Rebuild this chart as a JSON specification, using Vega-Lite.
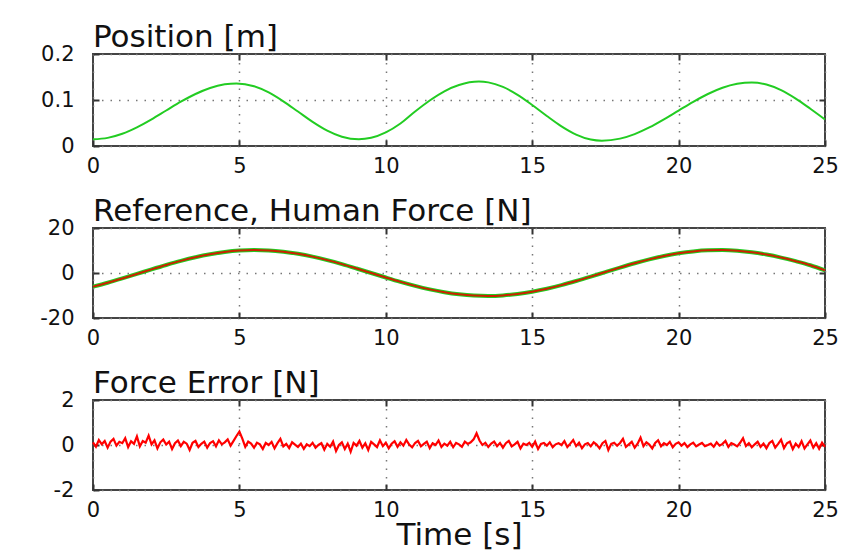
{
  "$schema": "https://vega.github.io/schema/vega-lite/v6.json",
  "background": "white",
  "padding": {"left": 38, "top": 21, "right": 10, "bottom": 5},
  "spacing": 82,
  "bounds": "flush",
  "config": {
    "font": "DejaVu Sans",
    "view": {"stroke": "#444444", "strokeWidth": 2},
    "axis": {
      "labelFont": "DejaVu Sans", "labelFontSize": 21, "labelColor": "#111111",
      "domain": false, "ticks": true, "tickSize": -6, "tickWidth": 2, "tickColor": "#333333",
      "grid": true, "gridDash": [1.5, 7], "gridColor": "#777777", "gridWidth": 1.5,
      "titleFont": "DejaVu Sans", "titleFontWeight": "normal", "titleColor": "#111111"
    },
    "title": {"font": "DejaVu Sans", "fontSize": 31, "fontWeight": "normal", "color": "#111111", "anchor": "start", "frame": "group", "offset": -11}
  },
  "datasets": {
    "pos": [
      {"t": 0, "p": 0.0146}, {"t": 0.5, "p": 0.0177}, {"t": 1, "p": 0.0266}, {"t": 1.5, "p": 0.0406},
      {"t": 2, "p": 0.058}, {"t": 2.5, "p": 0.0772}, {"t": 3, "p": 0.0963}, {"t": 3.5, "p": 0.1131},
      {"t": 4, "p": 0.1262}, {"t": 4.5, "p": 0.134}, {"t": 4.9, "p": 0.136}, {"t": 5.5, "p": 0.1299},
      {"t": 6, "p": 0.1164}, {"t": 6.5, "p": 0.0971}, {"t": 7, "p": 0.0749}, {"t": 7.5, "p": 0.0526},
      {"t": 8, "p": 0.0335}, {"t": 8.5, "p": 0.0202}, {"t": 9.08, "p": 0.0146}, {"t": 9.5, "p": 0.0178},
      {"t": 10, "p": 0.0295}, {"t": 10.5, "p": 0.049}, {"t": 11, "p": 0.075}, {"t": 11.5, "p": 0.099},
      {"t": 12, "p": 0.119}, {"t": 12.5, "p": 0.1325}, {"t": 13.18, "p": 0.14}, {"t": 13.5, "p": 0.1383},
      {"t": 14, "p": 0.1284}, {"t": 14.5, "p": 0.1112}, {"t": 15, "p": 0.0892}, {"t": 15.5, "p": 0.0653},
      {"t": 16, "p": 0.0428}, {"t": 16.5, "p": 0.0249}, {"t": 17, "p": 0.014}, {"t": 17.38, "p": 0.0115},
      {"t": 18, "p": 0.016}, {"t": 18.5, "p": 0.0259}, {"t": 19, "p": 0.0403}, {"t": 19.5, "p": 0.0579},
      {"t": 20, "p": 0.0771}, {"t": 20.5, "p": 0.0961}, {"t": 21, "p": 0.1131}, {"t": 21.5, "p": 0.1266},
      {"t": 22, "p": 0.1351}, {"t": 22.5, "p": 0.1381}, {"t": 23, "p": 0.1337}, {"t": 23.5, "p": 0.1215},
      {"t": 24, "p": 0.1031}, {"t": 24.5, "p": 0.0809}, {"t": 25, "p": 0.0575}
    ],
    "force": [
      {"t": 0, "f": -6.06}, {"t": 0.5, "f": -4.32}, {"t": 1, "f": -2.41}, {"t": 1.5, "f": -0.41},
      {"t": 2, "f": 1.62}, {"t": 2.5, "f": 3.57}, {"t": 3, "f": 5.39}, {"t": 3.5, "f": 7.0},
      {"t": 4, "f": 8.32}, {"t": 4.5, "f": 9.32}, {"t": 5, "f": 9.96}, {"t": 5.5, "f": 10.2},
      {"t": 6, "f": 10.04}, {"t": 6.5, "f": 9.48}, {"t": 7, "f": 8.55}, {"t": 7.5, "f": 7.28},
      {"t": 8, "f": 5.72}, {"t": 8.5, "f": 3.95}, {"t": 9, "f": 2.01}, {"t": 9.5, "f": 0},
      {"t": 10, "f": -2.01}, {"t": 10.5, "f": -3.95}, {"t": 11, "f": -5.73}, {"t": 11.5, "f": -7.28},
      {"t": 12, "f": -8.55}, {"t": 12.5, "f": -9.48}, {"t": 13, "f": -10.04}, {"t": 13.5, "f": -10.2},
      {"t": 14, "f": -9.96}, {"t": 14.5, "f": -9.32}, {"t": 15, "f": -8.32}, {"t": 15.5, "f": -7.0},
      {"t": 16, "f": -5.39}, {"t": 16.5, "f": -3.57}, {"t": 17, "f": -1.62}, {"t": 17.5, "f": 0.41},
      {"t": 18, "f": 2.41}, {"t": 18.5, "f": 4.32}, {"t": 19, "f": 6.06}, {"t": 19.5, "f": 7.56},
      {"t": 20, "f": 8.75}, {"t": 20.5, "f": 9.6}, {"t": 21, "f": 10.08}, {"t": 21.5, "f": 10.18},
      {"t": 22, "f": 9.89}, {"t": 22.5, "f": 9.22}, {"t": 23, "f": 8.19}, {"t": 23.5, "f": 6.85},
      {"t": 24, "f": 5.25}, {"t": 24.5, "f": 3.46}, {"t": 25, "f": 1.21}
    ],
    "err": [
      {"t": 0.0, "e": 0.12}, {"t": 0.1, "e": -0.08}, {"t": 0.2, "e": 0.22}, {"t": 0.3, "e": 0.03}, {"t": 0.4, "e": 0.18}, {"t": 0.5, "e": -0.12}, {"t": 0.6, "e": 0.15}, {"t": 0.7, "e": 0.27}, {"t": 0.8, "e": -0.03}, {"t": 0.9, "e": 0.14},
      {"t": 1.0, "e": 0.08}, {"t": 1.1, "e": 0.3}, {"t": 1.2, "e": -0.09}, {"t": 1.3, "e": 0.17}, {"t": 1.4, "e": 0.05}, {"t": 1.5, "e": 0.38}, {"t": 1.6, "e": -0.06}, {"t": 1.7, "e": 0.18}, {"t": 1.8, "e": 0.1}, {"t": 1.9, "e": 0.42},
      {"t": 2.0, "e": 0.03}, {"t": 2.1, "e": 0.21}, {"t": 2.2, "e": -0.15}, {"t": 2.3, "e": 0.12}, {"t": 2.4, "e": 0.24}, {"t": 2.5, "e": 0.02}, {"t": 2.6, "e": 0.15}, {"t": 2.7, "e": -0.18}, {"t": 2.8, "e": 0.08}, {"t": 2.9, "e": 0.2},
      {"t": 3.0, "e": -0.05}, {"t": 3.1, "e": 0.14}, {"t": 3.2, "e": 0.06}, {"t": 3.3, "e": -0.22}, {"t": 3.4, "e": 0.1}, {"t": 3.5, "e": 0.18}, {"t": 3.6, "e": -0.09}, {"t": 3.7, "e": 0.05}, {"t": 3.8, "e": 0.15}, {"t": 3.9, "e": -0.12},
      {"t": 4.0, "e": 0.09}, {"t": 4.1, "e": 0.17}, {"t": 4.2, "e": -0.06}, {"t": 4.3, "e": 0.21}, {"t": 4.4, "e": 0.03}, {"t": 4.5, "e": 0.12}, {"t": 4.6, "e": 0.25}, {"t": 4.7, "e": -0.03}, {"t": 4.8, "e": 0.18}, {"t": 4.9, "e": 0.4},
      {"t": 5.0, "e": 0.6}, {"t": 5.1, "e": 0.28}, {"t": 5.2, "e": -0.08}, {"t": 5.3, "e": 0.15}, {"t": 5.4, "e": 0.06}, {"t": 5.5, "e": -0.12}, {"t": 5.6, "e": 0.1}, {"t": 5.7, "e": 0.03}, {"t": 5.8, "e": -0.18}, {"t": 5.9, "e": 0.09},
      {"t": 6.0, "e": 0.0}, {"t": 6.1, "e": 0.14}, {"t": 6.2, "e": -0.15}, {"t": 6.3, "e": 0.08}, {"t": 6.4, "e": 0.27}, {"t": 6.5, "e": -0.06}, {"t": 6.6, "e": 0.05}, {"t": 6.7, "e": -0.14}, {"t": 6.8, "e": 0.12}, {"t": 6.9, "e": 0.02},
      {"t": 7.0, "e": -0.09}, {"t": 7.1, "e": 0.06}, {"t": 7.2, "e": -0.17}, {"t": 7.3, "e": 0.03}, {"t": 7.4, "e": -0.05}, {"t": 7.5, "e": 0.1}, {"t": 7.6, "e": -0.12}, {"t": 7.7, "e": 0.0}, {"t": 7.8, "e": 0.08}, {"t": 7.9, "e": -0.21},
      {"t": 8.0, "e": 0.05}, {"t": 8.1, "e": -0.08}, {"t": 8.2, "e": 0.15}, {"t": 8.3, "e": -0.27}, {"t": 8.4, "e": 0.0}, {"t": 8.5, "e": 0.12}, {"t": 8.6, "e": -0.18}, {"t": 8.7, "e": 0.06}, {"t": 8.8, "e": -0.3}, {"t": 8.9, "e": 0.09},
      {"t": 9.0, "e": -0.03}, {"t": 9.1, "e": 0.18}, {"t": 9.2, "e": -0.12}, {"t": 9.3, "e": 0.08}, {"t": 9.4, "e": -0.22}, {"t": 9.5, "e": 0.14}, {"t": 9.6, "e": 0.03}, {"t": 9.7, "e": -0.09}, {"t": 9.8, "e": 0.21}, {"t": 9.9, "e": -0.05},
      {"t": 10.0, "e": 0.1}, {"t": 10.1, "e": -0.15}, {"t": 10.2, "e": 0.06}, {"t": 10.3, "e": 0.17}, {"t": 10.4, "e": -0.08}, {"t": 10.5, "e": 0.12}, {"t": 10.6, "e": -0.03}, {"t": 10.7, "e": 0.22}, {"t": 10.8, "e": 0.02}, {"t": 10.9, "e": -0.1},
      {"t": 11.0, "e": 0.09}, {"t": 11.1, "e": 0.18}, {"t": 11.2, "e": -0.06}, {"t": 11.3, "e": 0.05}, {"t": 11.4, "e": 0.15}, {"t": 11.5, "e": -0.14}, {"t": 11.6, "e": 0.08}, {"t": 11.7, "e": 0.0}, {"t": 11.8, "e": 0.2}, {"t": 11.9, "e": -0.09},
      {"t": 12.0, "e": 0.06}, {"t": 12.1, "e": -0.03}, {"t": 12.2, "e": 0.14}, {"t": 12.3, "e": -0.1}, {"t": 12.4, "e": 0.09}, {"t": 12.5, "e": 0.03}, {"t": 12.6, "e": -0.08}, {"t": 12.7, "e": 0.15}, {"t": 12.8, "e": 0.05}, {"t": 12.9, "e": 0.12},
      {"t": 13.0, "e": 0.25}, {"t": 13.1, "e": 0.52}, {"t": 13.2, "e": 0.2}, {"t": 13.3, "e": 0.0}, {"t": 13.4, "e": 0.1}, {"t": 13.5, "e": -0.09}, {"t": 13.6, "e": 0.06}, {"t": 13.7, "e": 0.15}, {"t": 13.8, "e": -0.05}, {"t": 13.9, "e": 0.09},
      {"t": 14.0, "e": -0.12}, {"t": 14.1, "e": 0.08}, {"t": 14.2, "e": 0.18}, {"t": 14.3, "e": -0.06}, {"t": 14.4, "e": 0.03}, {"t": 14.5, "e": 0.14}, {"t": 14.6, "e": -0.15}, {"t": 14.7, "e": 0.06}, {"t": 14.8, "e": 0.0}, {"t": 14.9, "e": 0.1},
      {"t": 15.0, "e": -0.08}, {"t": 15.1, "e": 0.15}, {"t": 15.2, "e": -0.18}, {"t": 15.3, "e": 0.05}, {"t": 15.4, "e": 0.09}, {"t": 15.5, "e": -0.03}, {"t": 15.6, "e": 0.12}, {"t": 15.7, "e": -0.1}, {"t": 15.8, "e": 0.03}, {"t": 15.9, "e": 0.08},
      {"t": 16.0, "e": 0.0}, {"t": 16.1, "e": 0.17}, {"t": 16.2, "e": -0.09}, {"t": 16.3, "e": 0.06}, {"t": 16.4, "e": 0.22}, {"t": 16.5, "e": -0.05}, {"t": 16.6, "e": 0.1}, {"t": 16.7, "e": -0.14}, {"t": 16.8, "e": 0.03}, {"t": 16.9, "e": 0.09},
      {"t": 17.0, "e": -0.06}, {"t": 17.1, "e": 0.12}, {"t": 17.2, "e": 0.02}, {"t": 17.3, "e": -0.15}, {"t": 17.4, "e": 0.08}, {"t": 17.5, "e": 0.18}, {"t": 17.6, "e": -0.22}, {"t": 17.7, "e": 0.05}, {"t": 17.8, "e": 0.1}, {"t": 17.9, "e": -0.03},
      {"t": 18.0, "e": 0.09}, {"t": 18.1, "e": 0.27}, {"t": 18.2, "e": -0.08}, {"t": 18.3, "e": 0.03}, {"t": 18.4, "e": 0.14}, {"t": 18.5, "e": -0.12}, {"t": 18.6, "e": 0.06}, {"t": 18.7, "e": 0.33}, {"t": 18.8, "e": -0.05}, {"t": 18.9, "e": 0.12},
      {"t": 19.0, "e": 0.02}, {"t": 19.1, "e": -0.15}, {"t": 19.2, "e": 0.09}, {"t": 19.3, "e": 0.21}, {"t": 19.4, "e": -0.06}, {"t": 19.5, "e": 0.08}, {"t": 19.6, "e": 0.0}, {"t": 19.7, "e": 0.14}, {"t": 19.8, "e": -0.1}, {"t": 19.9, "e": 0.05},
      {"t": 20.0, "e": 0.12}, {"t": 20.1, "e": -0.03}, {"t": 20.2, "e": 0.08}, {"t": 20.3, "e": -0.09}, {"t": 20.4, "e": 0.03}, {"t": 20.5, "e": 0.1}, {"t": 20.6, "e": -0.06}, {"t": 20.7, "e": 0.02}, {"t": 20.8, "e": 0.09}, {"t": 20.9, "e": -0.05},
      {"t": 21.0, "e": 0.0}, {"t": 21.1, "e": 0.06}, {"t": 21.2, "e": -0.08}, {"t": 21.3, "e": 0.12}, {"t": 21.4, "e": -0.03}, {"t": 21.5, "e": 0.05}, {"t": 21.6, "e": 0.18}, {"t": 21.7, "e": -0.09}, {"t": 21.8, "e": 0.08}, {"t": 21.9, "e": 0.02},
      {"t": 22.0, "e": -0.06}, {"t": 22.1, "e": 0.1}, {"t": 22.2, "e": 0.3}, {"t": 22.3, "e": -0.05}, {"t": 22.4, "e": 0.08}, {"t": 22.5, "e": -0.1}, {"t": 22.6, "e": 0.03}, {"t": 22.7, "e": 0.15}, {"t": 22.8, "e": -0.08}, {"t": 22.9, "e": 0.06},
      {"t": 23.0, "e": -0.15}, {"t": 23.1, "e": 0.09}, {"t": 23.2, "e": 0.18}, {"t": 23.3, "e": -0.12}, {"t": 23.4, "e": 0.05}, {"t": 23.5, "e": 0.24}, {"t": 23.6, "e": -0.14}, {"t": 23.7, "e": 0.08}, {"t": 23.8, "e": 0.15}, {"t": 23.9, "e": -0.18},
      {"t": 24.0, "e": 0.06}, {"t": 24.1, "e": -0.09}, {"t": 24.2, "e": 0.17}, {"t": 24.3, "e": -0.15}, {"t": 24.4, "e": 0.03}, {"t": 24.5, "e": 0.2}, {"t": 24.6, "e": -0.12}, {"t": 24.7, "e": 0.08}, {"t": 24.8, "e": -0.17}, {"t": 24.9, "e": 0.1},
      {"t": 25.0, "e": -0.08}
    ]
  },
  "vconcat": [
    {
      "title": {"text": "Position [m]"},
      "width": 732, "height": 92,
      "data": {"name": "pos"},
      "resolve": {"axis": {"x": "independent", "y": "independent"}},
      "layer": [
        {
          "mark": {"type": "line", "color": "#22cc22", "strokeWidth": 2, "interpolate": "monotone"},
          "encoding": {
            "x": {"field": "t", "type": "quantitative", "scale": {"domain": [0, 25], "nice": false},
                  "axis": {"title": null, "values": [0, 5, 10, 15, 20, 25], "labelPadding": 15, "labelFlush": false}},
            "y": {"field": "p", "type": "quantitative", "scale": {"domain": [0, 0.2], "nice": false},
                  "axis": {"title": null, "values": [0, 0.1, 0.2], "labelPadding": 25, "format": "~g"}}
          }
        },
        {
          "mark": {"type": "line", "opacity": 0},
          "encoding": {
            "x": {"field": "t", "type": "quantitative", "axis": {"orient": "top", "title": null, "labels": false, "grid": false, "values": [5, 10, 15, 20]}},
            "y": {"field": "p", "type": "quantitative", "axis": {"orient": "right", "title": null, "labels": false, "grid": false, "values": [0.1]}}
          }
        }
      ]
    },
    {
      "title": {"text": "Reference, Human Force [N]"},
      "width": 732, "height": 90,
      "data": {"name": "force"},
      "resolve": {"axis": {"x": "independent", "y": "independent"}},
      "layer": [
        {
          "mark": {"type": "line", "color": "#22cc22", "strokeWidth": 4, "interpolate": "monotone"},
          "encoding": {
            "x": {"field": "t", "type": "quantitative", "scale": {"domain": [0, 25], "nice": false},
                  "axis": {"title": null, "values": [0, 5, 10, 15, 20, 25], "labelPadding": 15, "labelFlush": false}},
            "y": {"field": "f", "type": "quantitative", "scale": {"domain": [-20, 20], "nice": false},
                  "axis": {"title": null, "values": [-20, 0, 20], "labelPadding": 25, "labelExpr": "replace(datum.label, '−', '-')"}}
          }
        },
        {
          "mark": {"type": "line", "color": "#cc2200", "strokeWidth": 2, "interpolate": "monotone"},
          "encoding": {
            "x": {"field": "t", "type": "quantitative", "axis": {"orient": "top", "title": null, "labels": false, "grid": false, "values": [5, 10, 15, 20]}},
            "y": {"field": "f", "type": "quantitative", "axis": {"orient": "right", "title": null, "labels": false, "grid": false, "values": [0]}}
          }
        }
      ]
    },
    {
      "title": {"text": "Force Error [N]"},
      "width": 732, "height": 90,
      "data": {"name": "err"},
      "resolve": {"axis": {"x": "independent", "y": "independent"}},
      "layer": [
        {
          "mark": {"type": "line", "color": "#ff0000", "strokeWidth": 2.2},
          "encoding": {
            "x": {"field": "t", "type": "quantitative", "scale": {"domain": [0, 25], "nice": false},
                  "axis": {"title": "Time [s]", "titleFontSize": 31, "titlePadding": 0, "values": [0, 5, 10, 15, 20, 25], "labelPadding": 15, "labelFlush": false}},
            "y": {"field": "e", "type": "quantitative", "scale": {"domain": [-2, 2], "nice": false},
                  "axis": {"title": null, "values": [-2, 0, 2], "labelPadding": 25, "labelExpr": "replace(datum.label, '−', '-')"}}
          }
        },
        {
          "mark": {"type": "line", "opacity": 0},
          "encoding": {
            "x": {"field": "t", "type": "quantitative", "axis": {"orient": "top", "title": null, "labels": false, "grid": false, "values": [5, 10, 15, 20]}},
            "y": {"field": "e", "type": "quantitative", "axis": {"orient": "right", "title": null, "labels": false, "grid": false, "values": [0]}}
          }
        }
      ]
    }
  ]
}
